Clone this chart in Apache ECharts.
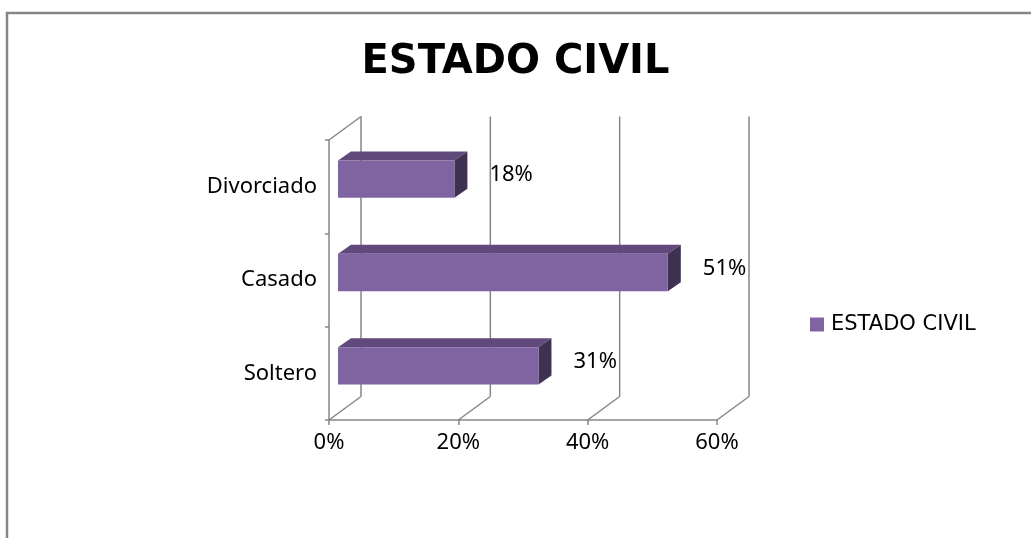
<!DOCTYPE html>
<html>
<head>
<meta charset="utf-8">
<script src="https://cdn.jsdelivr.net/npm/echarts@6/dist/echarts.min.js"></script>
<style>
html, body { margin: 0; padding: 0; background: #fff; }
#chart { width: 1031px; height: 538px; }
</style>
</head>
<body>
<div id="chart"></div>
<script>
// datos del grafico
var categories = ['Soltero', 'Casado', 'Divorciado'];
var values = [31, 51, 18];
var xTicks = [0, 20, 40, 60];
var seriesName = 'ESTADO CIVIL';

var FONT = '"Noto Sans", sans-serif';
var WIDE_FONT = '"DejaVu Sans", sans-serif';
var GRID_COLOR = '#868686';
// profundidad de las paredes (efecto 3d)
var DX = 32, DY = -23.5;
// posicion y profundidad de las barras dentro de la pared
var BAR_SX = 9, BAR_SY = -7.5, BAR_DX = 13, BAR_DY = -9;

var chart = echarts.init(document.getElementById('chart'));

var line = function (x1, y1, x2, y2) {
    return {
        type: 'line',
        shape: { x1: x1, y1: y1, x2: x2, y2: y2 },
        style: { stroke: GRID_COLOR, lineWidth: 1.5 }
    };
};

var renderWalls = function (params, api) {
    var v = api.value(0);
    var p0 = api.coord([v, 0]);
    var band = api.size([0, 1])[1];
    var x = p0[0];
    var yBot = p0[1] + band / 2;
    var yTop = api.coord([v, categories.length - 1])[1] - band / 2;
    var children = [
        line(x, yBot, x + DX, yBot + DY),
        line(x + DX, yBot + DY, x + DX, yTop + DY)
    ];
    if (v === 0) {
        children.push(line(x, yTop, x + DX, yTop + DY));
    }
    return { type: 'group', children: children };
};

var renderBars = function (params, api) {
    var v = api.value(0);
    var idx = api.value(1);
    var start = api.coord([0, idx]);
    var end = api.coord([v, idx]);
    var band = api.size([0, 1])[1];
    var h = band * 0.4;
    var x0 = start[0] + BAR_SX;
    var x1 = end[0] + BAR_SX;
    var yc = start[1] + BAR_SY;
    var yT = yc - h / 2;
    var yB = yc + h / 2;
    return {
        type: 'group',
        children: [
            {
                type: 'polygon',
                shape: { points: [[x0, yT], [x1, yT], [x1 + BAR_DX, yT + BAR_DY], [x0 + BAR_DX, yT + BAR_DY]] },
                style: { fill: '#604A7B' }
            },
            {
                type: 'polygon',
                shape: { points: [[x1, yT], [x1 + BAR_DX, yT + BAR_DY], [x1 + BAR_DX, yB + BAR_DY], [x1, yB]] },
                style: { fill: '#3F3151' }
            },
            {
                type: 'rect',
                shape: { x: x0, y: yT, width: x1 - x0, height: h },
                style: { fill: '#8064A2' }
            },
            {
                type: 'text',
                z2: 10,
                style: {
                    text: v + '%',
                    x: x1 + BAR_DX + 22,
                    y: yc - 4,
                    fill: '#000',
                    fontSize: 22,
                    fontFamily: FONT,
                    align: 'left',
                    verticalAlign: 'middle'
                }
            }
        ]
    };
};

var option = {
    animation: false,
    backgroundColor: '#fff',
    graphic: [{
        type: 'rect',
        shape: { x: 7, y: 13, width: 1100, height: 600 },
        style: { fill: 'none', stroke: '#868686', lineWidth: 2.5 },
        silent: true
    }],
    title: {
        text: 'ESTADO CIVIL',
        left: 'center',
        top: 38,
        textStyle: {
            fontFamily: WIDE_FONT,
            fontSize: 40,
            fontWeight: 'bold',
            color: '#000'
        }
    },
    legend: {
        data: [seriesName],
        left: 805,
        top: 309,
        icon: 'rect',
        itemWidth: 14,
        itemHeight: 14,
        itemGap: 10,
        textStyle: {
            fontFamily: WIDE_FONT,
            fontSize: 21,
            color: '#000',
            padding: [0, 0, 0, 2]
        }
    },
    grid: {
        left: 329,
        top: 140,
        width: 388,
        height: 280,
        containLabel: false
    },
    xAxis: {
        type: 'value',
        min: 0,
        max: 60,
        interval: 20,
        axisLine: { show: true, lineStyle: { color: GRID_COLOR, width: 1.5 } },
        axisTick: { show: true, length: 5, lineStyle: { color: GRID_COLOR, width: 1.5 } },
        splitLine: { show: false },
        axisLabel: {
            formatter: '{value}%',
            margin: 12,
            color: '#000',
            fontFamily: FONT,
            fontSize: 22
        }
    },
    yAxis: {
        type: 'category',
        data: categories,
        axisLine: { show: true, lineStyle: { color: GRID_COLOR, width: 1.5 } },
        axisTick: { show: true, length: 4, lineStyle: { color: GRID_COLOR, width: 1.5 } },
        splitLine: { show: false },
        axisLabel: {
            margin: 12,
            color: '#000',
            fontFamily: FONT,
            fontSize: 22
        }
    },
    series: [
        {
            name: 'paredes',
            type: 'custom',
            renderItem: renderWalls,
            clip: false,
            silent: true,
            z: 1,
            encode: { x: 0, y: 1 },
            data: xTicks.map(function (v) { return [v, 0]; })
        },
        {
            name: seriesName,
            type: 'custom',
            renderItem: renderBars,
            clip: false,
            z: 3,
            itemStyle: { color: '#8064A2' },
            encode: { x: 0, y: 1 },
            data: values.map(function (v, i) { return [v, i]; })
        }
    ]
};

chart.setOption(option);
</script>
</body>
</html>
